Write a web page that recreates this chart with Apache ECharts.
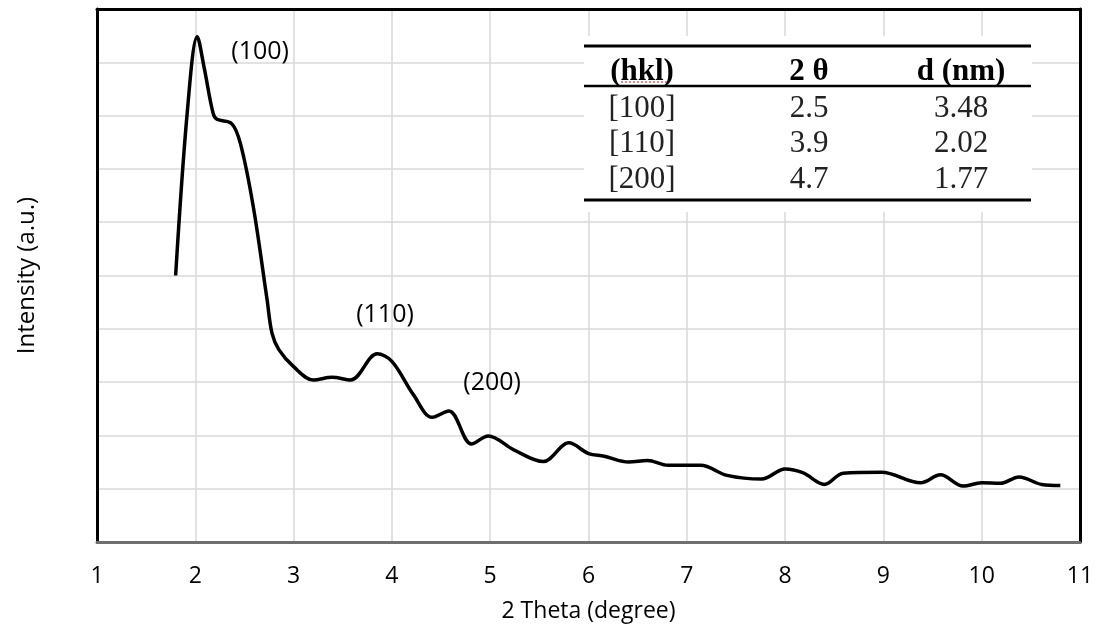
<!DOCTYPE html>
<html>
<head>
<meta charset="utf-8">
<script src="https://cdn.jsdelivr.net/npm/echarts@6/dist/echarts.min.js"></script>
<style>
html, body { margin: 0; padding: 0; background: #fff; }
#chart { width: 1096px; height: 630px; }
</style>
</head>
<body>
<div id="chart"></div>
<script>
// XRD pattern
var theta = [1.80, 1.92, 2.02, 2.09, 2.18, 2.22, 2.37, 2.46, 2.59, 2.73, 2.78, 2.85, 3.00, 3.20, 3.39, 3.58,
    3.85, 4.00, 4.22, 4.41, 4.58, 4.81, 4.98, 5.24, 5.54, 5.80, 6.00, 6.16, 6.41, 6.60, 6.81, 7.14,
    7.41, 7.76, 8.00, 8.18, 8.40, 8.59, 8.98, 9.38, 9.58, 9.81, 10.00, 10.19, 10.38, 10.61, 10.80];
var intensity = [5.00, 8.10, 9.48, 8.90, 8.05, 7.93, 7.85, 7.47, 6.29, 4.55, 3.92, 3.61, 3.29, 3.04, 3.09, 3.04,
    3.53, 3.39, 2.76, 2.34, 2.46, 1.84, 1.99, 1.73, 1.51, 1.86, 1.66, 1.61, 1.50, 1.53, 1.44, 1.44,
    1.25, 1.18, 1.37, 1.30, 1.08, 1.29, 1.31, 1.11, 1.26, 1.05, 1.11, 1.10, 1.22, 1.08, 1.06];

// peak labels
var peakNames = ['(100)', '(110)', '(200)'];
var peakX = [2.66, 3.93, 5.02];
var peakY = [9.19, 4.26, 2.98];

// inset table
var tableHead = ['(hkl)', '2 θ', 'd (nm)'];
var hklCol = ['[100]', '[110]', '[200]'];
var thetaCol = ['2.5', '3.9', '4.7'];
var dCol = ['3.48', '2.02', '1.77'];

var seriesData = [];
for (var i = 0; i < theta.length; i++) {
    seriesData.push([theta[i], intensity[i]]);
}

var marks = [];
for (var i = 0; i < peakNames.length; i++) {
    marks.push({ name: peakNames[i], coord: [peakX[i], peakY[i]] });
}

var fontUI = '"Open Sans", "Noto Sans", sans-serif';
var fontSerif = '"Liberation Serif", "DejaVu Serif", serif';

// table graphic (drawn over the grid lines)
var colX = [642, 809, 961];
var rowY = [109, 144, 180];
var tbl = [];
tbl.push({ type: 'rect', z: 50, shape: { x: 584, y: 36, width: 448, height: 176 }, style: { fill: '#fff' } });
tbl.push({ type: 'line', z: 51, shape: { x1: 584, y1: 46, x2: 1031, y2: 46 }, style: { stroke: '#000', lineWidth: 3 } });
tbl.push({ type: 'line', z: 51, shape: { x1: 584, y1: 86, x2: 1031, y2: 86 }, style: { stroke: '#000', lineWidth: 2.5 } });
tbl.push({ type: 'line', z: 51, shape: { x1: 584, y1: 200, x2: 1031, y2: 200 }, style: { stroke: '#000', lineWidth: 3 } });
tbl.push({ type: 'line', z: 52, shape: { x1: 621, y1: 82, x2: 667, y2: 82 }, style: { stroke: '#d04040', lineWidth: 1.2, lineDash: [2, 2] } });
for (var c = 0; c < 3; c++) {
    tbl.push({ type: 'text', z: 52, x: colX[c], y: 72, style: { text: tableHead[c], font: 'bold 31px ' + fontSerif, fill: '#000', align: 'center', verticalAlign: 'middle' } });
}
var cols = [hklCol, thetaCol, dCol];
for (var r = 0; r < 3; r++) {
    for (var c = 0; c < 3; c++) {
        tbl.push({ type: 'text', z: 52, x: colX[c], y: rowY[r], style: { text: cols[c][r], font: '31px ' + fontSerif, fill: '#222', align: 'center', verticalAlign: 'middle' } });
    }
}

var chart = echarts.init(document.getElementById('chart'));
var option = {
    animation: false,
    backgroundColor: '#fff',
    grid: { left: 97, right: 16, top: 9, bottom: 88, containLabel: false, outerBoundsMode: 'none' },
    xAxis: [{
        type: 'value',
        min: 1, max: 11, interval: 1,
        name: '2 Theta (degree)',
        nameLocation: 'middle',
        nameGap: 58,
        nameTextStyle: { fontFamily: fontUI, fontSize: 23, color: '#000' },
        axisLine: { onZero: false, lineStyle: { color: '#6f6f6f', width: 3 } },
        axisTick: { show: false },
        axisLabel: { fontFamily: fontUI, fontSize: 23, color: '#000', margin: 23 },
        splitLine: { show: true, lineStyle: { color: '#d9d9d9', width: 1.5 } }
    }, {
        type: 'value', position: 'top',
        min: 1, max: 11, interval: 1,
        axisLine: { onZero: false, lineStyle: { color: '#000', width: 3 } },
        axisTick: { show: false }, axisLabel: { show: false }, splitLine: { show: false }
    }],
    yAxis: [{
        type: 'value',
        min: 0, max: 10, interval: 1,
        name: 'Intensity (a.u.)',
        nameLocation: 'middle',
        nameRotate: 90,
        nameGap: 58,
        nameTextStyle: { fontFamily: fontUI, fontSize: 24, color: '#000' },
        axisLine: { show: true, onZero: false, lineStyle: { color: '#000', width: 3 } },
        axisTick: { show: false },
        axisLabel: { show: false },
        splitLine: { show: true, lineStyle: { color: '#d9d9d9', width: 1.5 } }
    }, {
        type: 'value', position: 'right',
        min: 0, max: 10, interval: 1,
        axisLine: { show: true, onZero: false, lineStyle: { color: '#000', width: 3 } },
        axisTick: { show: false }, axisLabel: { show: false }, splitLine: { show: false }
    }],
    series: [{
        type: 'line',
        data: seriesData,
        smooth: 0.35,
        showSymbol: false,
        lineStyle: { color: '#000', width: 3.5 },
        markPoint: {
            symbol: 'circle',
            symbolSize: 0,
            label: { show: true, position: 'inside', formatter: '{b}', fontFamily: fontUI, fontSize: 25, color: '#000' },
            data: marks
        },
        z: 3
    }],
    graphic: tbl
};
chart.setOption(option);
</script>
</body>
</html>
